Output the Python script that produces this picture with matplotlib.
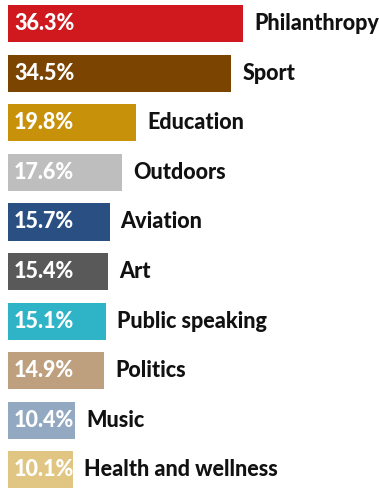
import matplotlib
matplotlib.use("Agg")
import matplotlib.pyplot as plt

# share of respondents by interest area
categories = ["Philanthropy", "Sport", "Education", "Outdoors", "Aviation",
              "Art", "Public speaking", "Politics", "Music", "Health and wellness"]
values = [36.3, 34.5, 19.8, 17.6, 15.7, 15.4, 15.1, 14.9, 10.4, 10.1]
colors = ["#CF191E", "#7B4401", "#C8910A", "#BEBEBE", "#2A4F83",
          "#595959", "#2FB4C7", "#BEA07F", "#93A8C1", "#E0C682"]

plt.rcParams["font.family"] = ["Lato", "DejaVu Sans"]

fig = plt.figure(figsize=(3.79, 4.88), dpi=100)
ax = fig.add_axes([0, 0, 1, 1])

pos = list(range(len(categories)))
ax.barh(pos, values, height=0.75, color=colors)

for i, (v, name) in enumerate(zip(values, categories)):
    ax.text(0.9, i, f"{v}%", color="white", fontsize=15.5, fontweight="black",
            va="center", ha="left")
    ax.text(v + 1.7, i, name, color="#111111", fontsize=15.5, fontweight="black",
            va="center", ha="left")

ax.set_xlim(-1.24, 57.3)
ax.set_ylim(9.365, -0.474)
ax.axis("off")

fig.savefig("out.png", dpi=100, facecolor="white")
